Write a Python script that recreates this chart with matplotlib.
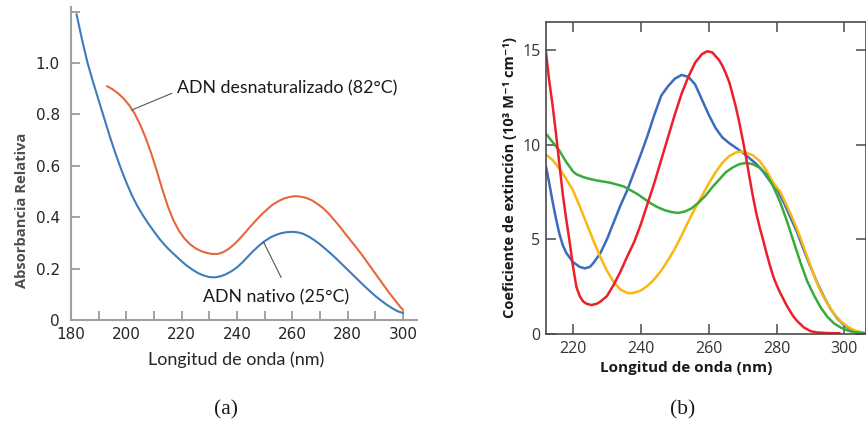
import matplotlib
matplotlib.use("Agg")
import matplotlib.pyplot as plt

# ---------------- Panel (a): relative absorbance of DNA ----------------
nativo_nm = [182, 184, 186, 188, 190, 192, 194, 196, 198, 200, 202, 204, 206, 208,
             210, 212, 214, 216, 218, 220, 222, 224, 226, 228, 230, 232, 234, 236,
             238, 240, 242, 244, 246, 248, 250, 252, 254, 256, 258, 260, 262, 264,
             266, 268, 270, 272, 274, 276, 278, 280, 282, 284, 286, 288, 290, 292,
             294, 296, 298, 300]
nativo_abs = [1.19, 1.09, 1.0, 0.925, 0.855, 0.785, 0.715, 0.65, 0.59, 0.535, 0.485,
              0.443, 0.407, 0.374, 0.344, 0.315, 0.29, 0.268, 0.248, 0.228, 0.21, 0.195,
              0.182, 0.173, 0.167, 0.166, 0.17, 0.178, 0.19, 0.205, 0.225, 0.248, 0.27,
              0.29, 0.307, 0.321, 0.331, 0.338, 0.342, 0.343, 0.341, 0.335, 0.324, 0.31,
              0.294, 0.276, 0.257, 0.237, 0.216, 0.195, 0.174, 0.153, 0.132, 0.112,
              0.093, 0.076, 0.06, 0.046, 0.034, 0.027]

desnat_nm = [193, 195, 197, 199, 201, 203, 205, 207, 209, 211, 213, 215, 217, 219,
             221, 223, 225, 227, 229, 231, 233, 235, 237, 239, 241, 243, 245, 247,
             249, 251, 253, 255, 257, 259, 261, 263, 265, 267, 269, 271, 273, 275,
             277, 279, 281, 283, 285, 287, 289, 291, 293, 295, 297, 299, 300]
desnat_abs = [0.91, 0.898, 0.882, 0.862, 0.836, 0.803, 0.76, 0.708, 0.648, 0.58, 0.508,
              0.442, 0.388, 0.347, 0.317, 0.295, 0.279, 0.268, 0.261, 0.257, 0.257,
              0.264, 0.277, 0.295, 0.317, 0.341, 0.366, 0.39, 0.412, 0.432, 0.45,
              0.463, 0.473, 0.479, 0.482, 0.48, 0.475, 0.466, 0.452, 0.436, 0.415,
              0.39, 0.365, 0.337, 0.31, 0.283, 0.255, 0.225, 0.195, 0.165, 0.135,
              0.105, 0.078, 0.05, 0.039]

a_xticks = [180, 200, 220, 240, 260, 280, 300]
a_yticks = [0, 0.2, 0.4, 0.6, 0.8, 1.0]
a_yticklabels = ["0", "0.2", "0.4", "0.6", "0.8", "1.0"]

# ---------------- Panel (b): extinction coefficients of nucleotides ----------------
azul_nm = [212, 213, 214, 215, 216, 217, 218, 220, 222, 223.5, 225, 226, 228, 230,
           232, 234, 236, 238, 240, 242, 244, 246, 248, 250, 252, 254, 256, 258, 260,
           262, 264, 266, 268, 270, 272, 274, 276, 278, 280, 282, 284, 286, 288, 290,
           292, 294, 296, 298, 300, 302, 304, 306]
azul_val = [8.9, 8.0, 7.0, 6.1, 5.3, 4.7, 4.3, 3.8, 3.55, 3.47, 3.55, 3.75, 4.25, 5.0,
            5.9, 6.8, 7.6, 8.55, 9.5, 10.5, 11.6, 12.6, 13.1, 13.5, 13.7, 13.6, 13.2,
            12.4, 11.6, 10.9, 10.4, 10.1, 9.85, 9.6, 9.3, 9.0, 8.6, 8.1, 7.7, 7.0, 6.2,
            5.4, 4.45, 3.55, 2.7, 1.95, 1.3, 0.8, 0.45, 0.22, 0.1, 0.04]

rojo_nm = [212, 213, 214, 215, 216, 217, 218, 219, 220, 221, 222, 223, 224, 225.5,
           227, 228, 230, 232, 234, 236, 238, 240, 242, 244, 246, 248, 250, 252, 254,
           256, 258, 259.5, 261, 263, 264, 265, 266, 267, 268, 269, 270, 271, 272, 273,
           274, 275, 276, 277, 278, 279, 280, 281, 282, 283, 284, 285, 286, 288, 290,
           292, 295, 298.5]
rojo_val = [15.0, 13.4, 12.1, 10.6, 9.0, 7.4, 6.1, 4.9, 3.6, 2.5, 2.0, 1.72, 1.6, 1.53,
            1.6, 1.7, 2.0, 2.6, 3.3, 4.1, 4.85, 5.8, 6.9, 8.0, 9.2, 10.4, 11.6, 12.7,
            13.6, 14.35, 14.8, 14.95, 14.9, 14.5, 14.2, 13.8, 13.35, 12.7, 12.0, 11.2,
            10.3, 9.35, 8.3, 7.3, 6.4, 5.65, 5.0, 4.3, 3.65, 3.05, 2.6, 2.2, 1.85, 1.5,
            1.2, 0.92, 0.7, 0.35, 0.15, 0.08, 0.05, 0.04]

verde_nm = [212, 214, 216, 218, 220, 221, 223, 225, 227, 229, 231, 233, 235, 237, 239,
            241, 243, 245, 247, 249, 251, 253, 255, 257, 259, 261, 263, 265, 267, 269,
            271, 273, 275, 277, 279, 281, 283, 285, 287, 289, 291, 293, 295, 297, 299,
            301, 303, 306]
verde_val = [10.6, 10.15, 9.7, 9.1, 8.6, 8.45, 8.3, 8.2, 8.12, 8.06, 8.0, 7.9, 7.8, 7.6,
             7.4, 7.15, 6.9, 6.7, 6.55, 6.45, 6.4, 6.48, 6.65, 6.95, 7.3, 7.75, 8.15,
             8.55, 8.8, 8.98, 9.05, 8.98, 8.8, 8.45, 7.8, 7.0, 6.0, 4.9, 3.8, 2.8, 2.05,
             1.4, 0.9, 0.55, 0.33, 0.18, 0.09, 0.04]

amarillo_nm = [212, 214, 216, 218, 220, 222, 224, 226, 228, 230, 232, 234, 236, 237,
               238, 240, 242, 244, 246, 248, 250, 252, 254, 256, 258, 260, 262, 264,
               266, 268, 269.5, 271, 273, 275, 277, 279, 281, 283, 285, 287, 289, 291,
               293, 295, 297, 299, 301, 303, 306]
amarillo_val = [9.5, 9.2, 8.75, 8.2, 7.6, 6.75, 5.85, 4.95, 4.1, 3.35, 2.75, 2.35, 2.17,
                2.15, 2.18, 2.3, 2.55, 2.9, 3.35, 3.9, 4.5, 5.2, 5.95, 6.65, 7.3, 7.95,
                8.55, 9.05, 9.4, 9.6, 9.65, 9.6, 9.45, 9.15, 8.65, 8.0, 7.55, 6.8, 6.0,
                5.1, 4.1, 3.1, 2.25, 1.6, 1.05, 0.65, 0.38, 0.18, 0.05]

b_xticks = [220, 240, 260, 280, 300]
b_yticks = [0, 5, 10, 15]

SANS_A = ["Lato", "DejaVu Sans"]
TICKS_A = ["DejaVu Sans"]
SANS_B = ["Open Sans", "DejaVu Sans"]
SERIF = ["Liberation Serif", "DejaVu Serif"]

fig = plt.figure(figsize=(8.66, 4.26), dpi=100)
W, H = 866, 426


def frac_rect(left, top, right, bottom):
    return [left / W, 1 - bottom / H, (right - left) / W, (bottom - top) / H]


def fig_xy(px, py):
    return px / W, 1 - py / H


# ---------- (a) ----------
ax = fig.add_axes(frac_rect(71, 7, 417, 320))
ax.plot(nativo_nm, nativo_abs, color="#3c7cbd", lw=1.5, solid_capstyle="round")
ax.plot(desnat_nm, desnat_abs, color="#e5683c", lw=1.5, solid_capstyle="round")
ax.set_xlim(180, 305)
ax.set_ylim(0, 1.218)
for s in ("top", "right"):
    ax.spines[s].set_visible(False)
for s in ("left", "bottom"):
    ax.spines[s].set_color("#a0a0a0")
    ax.spines[s].set_linewidth(1.5)
ax.set_xticks(a_xticks)
ax.set_xticks([x for x in range(190, 301, 10) if x not in a_xticks], minor=True)
ax.set_yticks(a_yticks)
ax.set_yticklabels(a_yticklabels)
ax.set_yticks([1.2], minor=True)
ax.tick_params(axis="both", which="both", direction="in", color="#8a8a8a",
               width=1.1, length=6.5, labelcolor="#262626", labelsize=11)
ax.tick_params(axis="x", which="major", pad=5)
ax.tick_params(axis="y", which="both", pad=8)
for lab in ax.get_xticklabels() + ax.get_yticklabels():
    lab.set_family(TICKS_A)

fig.text(*fig_xy(236.5, 360), "Longitud de onda (nm)", family=SANS_A, fontsize=13,
         color="#262626", ha="center", va="center")
fig.text(*fig_xy(22.5, 210), "Absorbancia Relativa", family=SANS_B, fontsize=10.6,
         fontweight="bold", color="#4d4d4d", ha="center", va="center", rotation=90)

# curve labels with their leader lines
ax.plot([201.9, 216.4], [0.817, 0.882], color="#555555", lw=0.8)
ax.text(218.2, 0.90, "ADN desnaturalizado (82°C)", fontsize=12.8, family=SANS_A,
        color="#1a1a1a", va="center", ha="left")
ax.plot([249.5, 255.9], [0.305, 0.166], color="#555555", lw=0.8)
ax.text(227.8, 0.088, "ADN nativo (25°C)", fontsize=12.8, family=SANS_A,
        color="#1a1a1a", va="center", ha="left")

# ---------- (b) ----------
bx = fig.add_axes(frac_rect(546, 22, 865.5, 334))
bx.plot(azul_nm, azul_val, color="#3b6bbd", lw=1.8)
bx.plot(amarillo_nm, amarillo_val, color="#f9b70f", lw=1.8)
bx.plot(verde_nm, verde_val, color="#38ab3c", lw=1.8)
bx.plot(rojo_nm, rojo_val, color="#ec1f2b", lw=1.8)
bx.set_xlim(212.06, 306.2)
bx.set_ylim(0, 16.5)
for s in bx.spines.values():
    s.set_color("#4a4a4a")
    s.set_linewidth(1.2)
bx.set_xticks(b_xticks)
bx.set_yticks(b_yticks)
bx.tick_params(axis="both", direction="in", length=7, width=1.1, color="#4a4a4a",
               labelcolor="#333333", labelsize=11.5, top=True, right=True)
bx.tick_params(axis="x", pad=5)
bx.tick_params(axis="y", pad=4)
for lab in bx.get_xticklabels() + bx.get_yticklabels():
    lab.set_family(SANS_B)

fig.text(*fig_xy(686.5, 368), "Longitud de onda (nm)", family=SANS_B, fontsize=11,
         fontweight="bold", color="#1a1a1a", ha="center", va="center")
fig.text(*fig_xy(510, 177), "Coeficiente de extinción (10³ M⁻¹ cm⁻¹)", family=SANS_B,
         fontsize=10.5, fontweight="bold", color="#1a1a1a", ha="center", va="center",
         rotation=90)

# ---------- captions ----------
fig.text(*fig_xy(226, 410), "(a)", family=SERIF, fontsize=15.5, ha="center",
         va="center", color="#1a1a1a")
fig.text(*fig_xy(683, 410), "(b)", family=SERIF, fontsize=15.5, ha="center",
         va="center", color="#1a1a1a")

fig.savefig("out.png", dpi=100)
